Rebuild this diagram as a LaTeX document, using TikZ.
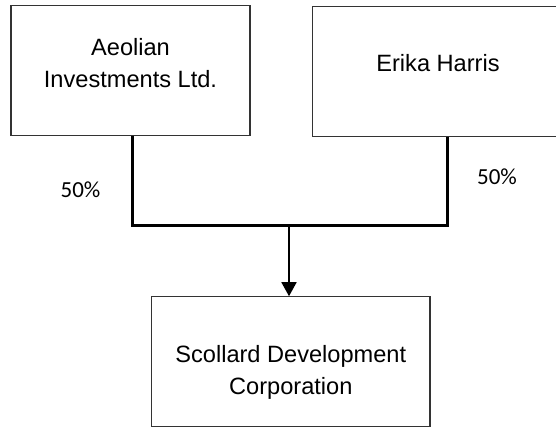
\documentclass[tikz,border=0pt]{standalone}
\usepackage{fontspec}
\setmainfont{Liberation Sans}
\newfontfamily\pctfont{Carlito}
\usetikzlibrary{arrows.meta}
\begin{document}
\begin{tikzpicture}[x=1pt,y=-1pt,
  boxnode/.style={draw=black!80, line width=1.1pt, rectangle, inner sep=0pt},
  lbl/.style={font=\fontsize{23.6}{32}\selectfont, inner sep=0pt, align=center, anchor=base},
  pct/.style={font=\pctfont\fontsize{23}{28}\selectfont, inner sep=0pt, anchor=base},
  conn/.style={line width=3pt, black, line join=miter},
  arr/.style={line width=1.7pt, black, -{Triangle[length=14pt,width=15pt]}}]
\useasboundingbox (0,0) rectangle (556,429);
\node[boxnode, minimum width=239pt, minimum height=129.3pt] (A) at (130.5,70.4) {};
\node[boxnode, minimum width=250.6pt, minimum height=129.3pt] (E) at (438,71.4) {};
\node[boxnode, minimum width=278.3pt, minimum height=129.3pt] (S) at (290.8,361.4) {};
\node[lbl] (At1) at (130.5,55) {Aeolian};
\node[lbl] (At2) at (130.5,87) {Investments Ltd.};
\node[lbl] (Et) at (438,71.7) {Erika Harris};
\node[lbl] (St1) at (290.8,362) {Scollard Development};
\node[lbl] (St2) at (290.8,394) {Corporation};
\node[pct] (P1) at (80.5,197.5) {50\%};
\node[pct] (P2) at (497,184.5) {50\%};
\coordinate (J) at (289,225.5);
\draw[conn] ([xshift=1.8pt]A.south) |- (J) -| ([xshift=9.3pt]E.south);
\draw[arr] (J) -- (J |- S.north);
\end{tikzpicture}
\end{document}
